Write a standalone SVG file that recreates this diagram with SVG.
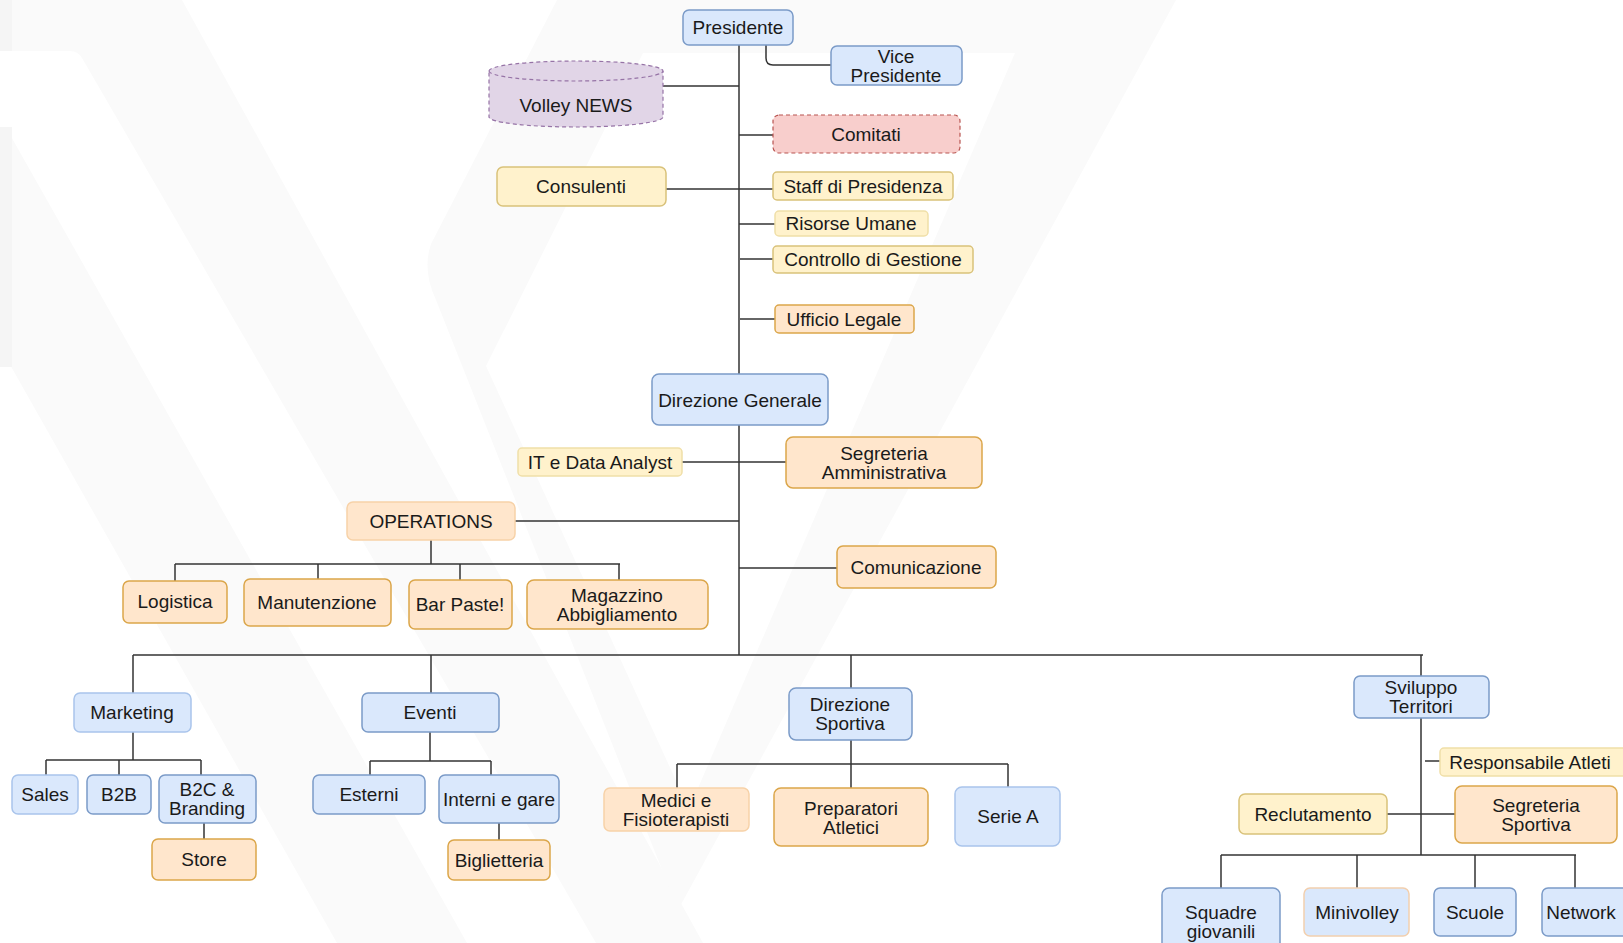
<svg xmlns="http://www.w3.org/2000/svg" width="1623" height="943" viewBox="0 0 1623 943">
<style>
text{font-family:"Liberation Sans",Arial,sans-serif;font-size:19px;fill:#1a1a1a;text-anchor:middle}
.b{fill:#dae8fc;stroke:#7b9bc8;stroke-width:1.5}
.bl{fill:#dae8fc;stroke:#a9c4eb;stroke-width:1.5}
.y{fill:#fff2cc;stroke:#d9c27a;stroke-width:1.5}
.yl{fill:#fff2cc;stroke:#f0dfa8;stroke-width:1.5}
.o{fill:#ffe6cc;stroke:#dba64a;stroke-width:1.5}
.ol{fill:#ffe6cc;stroke:#f7d2a8;stroke-width:1.5}
.p{fill:#f8cecc;stroke:#b85450;stroke-width:1.2;stroke-dasharray:4 3}
.v{fill:#e1d5e7;stroke:#9673a6;stroke-width:1.2;stroke-dasharray:4 3}
.wm{fill:#fafafa;stroke:none}
#connectors path{fill:none;stroke:#333;stroke-width:1.5}
</style>
<rect width="1623" height="943" fill="#ffffff"/>
<g id="watermark">
<path class="wm" d="M0,0 H182 L703,943 H596 L82,58 Q78,51 70,51 H0 Z"/>
<path class="wm" d="M0,127 Q8,128 13,140 L467,943 H337 L0,347 Z"/>
<path class="wm" d="M557,0 H1176 L678,910 L436,300 Q422,270 431,244 Z"/>
<path fill="#ffffff" d="M643,53 H1015 L689,809 L486,366 Z"/>
<rect x="0" y="0" width="12" height="51" fill="#f5f5f5"/>
<rect x="0" y="127" width="12" height="240" fill="#f5f5f5"/>
</g>
<g id="connectors">
<path d="M739,45 V655"/>
<path d="M766,45 V58 Q766,65 773,65 H831"/>
<path d="M663,86 H739"/>
<path d="M739,135 H773"/>
<path d="M666,189 H773"/>
<path d="M739,224 H775"/>
<path d="M740,259 H773"/>
<path d="M740,319 H775"/>
<path d="M682,462 H786"/>
<path d="M515,521 H739"/>
<path d="M431,540 V564"/>
<path d="M175,564 H620"/>
<path d="M175,564 V581"/>
<path d="M318,564 V579"/>
<path d="M460,564 V580"/>
<path d="M619,564 V580"/>
<path d="M739,568 H837"/>
<path d="M133,655 H1423"/>
<path d="M133,655 V693"/>
<path d="M431,655 V693"/>
<path d="M851,655 V688"/>
<path d="M1421,655 V676"/>
<path d="M133,732 V760"/>
<path d="M46,760 H201"/>
<path d="M46,760 V775"/>
<path d="M119,760 V775"/>
<path d="M201,760 V775"/>
<path d="M204,823 V839"/>
<path d="M430,732 V761"/>
<path d="M370,761 H491"/>
<path d="M370,761 V775"/>
<path d="M491,761 V775"/>
<path d="M499,823 V840"/>
<path d="M851,740 V764"/>
<path d="M677,764 H1008"/>
<path d="M677,764 V788"/>
<path d="M851,764 V788"/>
<path d="M1008,764 V787"/>
<path d="M1421,718 V855"/>
<path d="M1425,761 H1440"/>
<path d="M1387,814 H1455"/>
<path d="M1221,855 H1576"/>
<path d="M1221,855 V888"/>
<path d="M1357,855 V888"/>
<path d="M1475,855 V888"/>
<path d="M1575,855 V888"/>
</g>
<g id="presidente"><rect class="b" x="683" y="10" width="110" height="35" rx="6"/><text x="738" y="34">Presidente</text></g>
<g id="vice-presidente"><rect class="b" x="831" y="46" width="131" height="39" rx="6"/><text x="896" y="63">Vice</text><text x="896" y="82">Presidente</text></g>
<g id="volley-news"><path class="v" d="M489,71 A87,10 0 0,1 663,71 V117 A87,10 0 0,1 489,117 Z"/><path class="v" fill="none" d="M489,71 A87,10 0 0,0 663,71"/><text x="576" y="112">Volley NEWS</text></g>
<g id="comitati"><rect class="p" x="773" y="115" width="187" height="38" rx="6"/><text x="866" y="141">Comitati</text></g>
<g id="consulenti"><rect class="y" x="497" y="167" width="169" height="39" rx="6"/><text x="581" y="193">Consulenti</text></g>
<g id="staff"><rect class="y" x="773" y="172" width="180" height="28" rx="4"/><text x="863" y="193">Staff di Presidenza</text></g>
<g id="risorse-umane"><rect class="yl" x="775" y="211" width="153" height="25" rx="4"/><text x="851" y="230">Risorse Umane</text></g>
<g id="controllo"><rect class="y" x="773" y="246" width="200" height="27" rx="4"/><text x="873" y="266">Controllo di Gestione</text></g>
<g id="ufficio-legale"><rect class="o" x="775" y="305" width="139" height="28" rx="4"/><text x="844" y="326">Ufficio Legale</text></g>
<g id="direzione-generale"><rect class="b" x="652" y="374" width="176" height="51" rx="7"/><text x="740" y="407">Direzione Generale</text></g>
<g id="it-data"><rect class="yl" x="518" y="448" width="164" height="28" rx="4"/><text x="600" y="469">IT e Data Analyst</text></g>
<g id="segreteria-amm"><rect class="o" x="786" y="437" width="196" height="51" rx="7"/><text x="884" y="460">Segreteria</text><text x="884" y="479">Amministrativa</text></g>
<g id="operations"><rect class="ol" x="347" y="502" width="168" height="38" rx="6"/><text x="431" y="528">OPERATIONS</text></g>
<g id="comunicazione"><rect class="o" x="837" y="546" width="159" height="42" rx="6"/><text x="916" y="574">Comunicazione</text></g>
<g id="logistica"><rect class="o" x="123" y="581" width="104" height="42" rx="6"/><text x="175" y="608">Logistica</text></g>
<g id="manutenzione"><rect class="o" x="244" y="579" width="147" height="47" rx="6"/><text x="317" y="609">Manutenzione</text></g>
<g id="bar-paste"><rect class="o" x="409" y="580" width="103" height="49" rx="6"/><text x="460" y="611">Bar Paste!</text></g>
<g id="magazzino"><rect class="o" x="527" y="580" width="181" height="49" rx="7"/><text x="617" y="602">Magazzino</text><text x="617" y="621">Abbigliamento</text></g>
<g id="marketing"><rect class="bl" x="74" y="693" width="117" height="39" rx="6"/><text x="132" y="719">Marketing</text></g>
<g id="eventi"><rect class="b" x="362" y="693" width="137" height="39" rx="6"/><text x="430" y="719">Eventi</text></g>
<g id="direzione-sportiva"><rect class="b" x="789" y="688" width="123" height="52" rx="7"/><text x="850" y="711">Direzione</text><text x="850" y="730">Sportiva</text></g>
<g id="sviluppo-territori"><rect class="b" x="1354" y="676" width="135" height="42" rx="6"/><text x="1421" y="694">Sviluppo</text><text x="1421" y="713">Territori</text></g>
<g id="sales"><rect class="bl" x="12" y="775" width="66" height="39" rx="6"/><text x="45" y="801">Sales</text></g>
<g id="b2b"><rect class="b" x="87" y="775" width="64" height="39" rx="6"/><text x="119" y="801">B2B</text></g>
<g id="b2c"><rect class="b" x="159" y="775" width="97" height="48" rx="6"/><text x="207" y="796">B2C &amp;</text><text x="207" y="815">Branding</text></g>
<g id="store"><rect class="o" x="152" y="839" width="104" height="41" rx="6"/><text x="204" y="866">Store</text></g>
<g id="esterni"><rect class="b" x="313" y="775" width="112" height="39" rx="6"/><text x="369" y="801">Esterni</text></g>
<g id="interni"><rect class="b" x="439" y="775" width="120" height="48" rx="6"/><text x="499" y="806">Interni e gare</text></g>
<g id="biglietteria"><rect class="o" x="448" y="840" width="102" height="40" rx="6"/><text x="499" y="867">Biglietteria</text></g>
<g id="medici"><rect class="ol" x="604" y="788" width="145" height="43" rx="6"/><text x="676" y="807">Medici e</text><text x="676" y="826">Fisioterapisti</text></g>
<g id="preparatori"><rect class="o" x="774" y="788" width="154" height="58" rx="7"/><text x="851" y="815">Preparatori</text><text x="851" y="834">Atletici</text></g>
<g id="serie-a"><rect class="bl" x="955" y="787" width="105" height="59" rx="7"/><text x="1008" y="823">Serie A</text></g>
<g id="responsabile-atleti"><rect class="yl" x="1440" y="748" width="190" height="28" rx="4"/><text x="1530" y="769">Responsabile Atleti</text></g>
<g id="reclutamento"><rect class="y" x="1239" y="794" width="148" height="40" rx="6"/><text x="1313" y="821">Reclutamento</text></g>
<g id="segreteria-sportiva"><rect class="o" x="1455" y="786" width="162" height="57" rx="7"/><text x="1536" y="812">Segreteria</text><text x="1536" y="831">Sportiva</text></g>
<g id="squadre-giovanili"><rect class="b" x="1162" y="888" width="118" height="70" rx="7"/><text x="1221" y="919">Squadre</text><text x="1221" y="938">giovanili</text></g>
<g id="minivolley"><rect class="b" style="stroke:#f2cfae" x="1304" y="888" width="105" height="48" rx="6"/><text x="1357" y="919">Minivolley</text></g>
<g id="scuole"><rect class="b" x="1434" y="888" width="82" height="48" rx="6"/><text x="1475" y="919">Scuole</text></g>
<g id="network"><rect class="b" x="1542" y="888" width="100" height="48" rx="6"/><text x="1581" y="919">Network</text></g>
</svg>
